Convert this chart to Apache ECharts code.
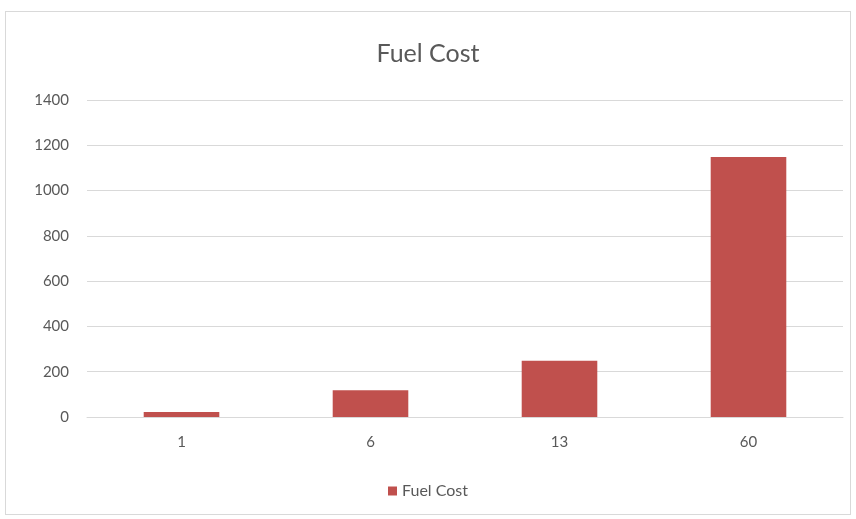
<!DOCTYPE html>
<html>
<head>
<meta charset="utf-8">
<script src="https://cdn.jsdelivr.net/npm/echarts@6/dist/echarts.min.js"></script>
<style>
  html, body { margin: 0; padding: 0; background: #fff; }
  .frame {
    position: absolute; left: 5px; top: 11px; width: 846px; height: 504px;
    border: 1px solid #d9d9d9; box-sizing: border-box;
  }
  #chart { position: absolute; left: 0; top: 0; width: 856px; height: 519px; }
</style>
</head>
<body>
<div class="frame"></div>
<div id="chart"></div>
<script>
// 数据
const categories = ['1', '6', '13', '60'];
const fuelCost = [22, 118, 248, 1148];
const seriesName = 'Fuel Cost';

const chart = echarts.init(document.getElementById('chart'));
const textColor = '#595959';
const fontFamily = 'Lato, "Open Sans", sans-serif';

chart.setOption({
  animation: false,
  title: {
    text: 'Fuel Cost',
    left: 'center',
    top: 36,
    textStyle: { color: textColor, fontSize: 25, fontWeight: 'normal', fontFamily: fontFamily }
  },
  legend: {
    data: [seriesName],
    bottom: 15,
    left: 'center',
    itemWidth: 9,
    itemHeight: 9,
    itemGap: 6,
    icon: 'rect',
    textStyle: { color: textColor, fontSize: 16, fontFamily: fontFamily }
  },
  grid: { left: 87, right: 13, top: 100, bottom: 102 },
  xAxis: {
    type: 'category',
    data: categories,
    axisLine: { lineStyle: { color: '#d9d9d9' } },
    axisTick: { show: false },
    axisLabel: { color: textColor, fontSize: 15, margin: 18, fontFamily: fontFamily }
  },
  yAxis: {
    type: 'value',
    min: 0,
    max: 1400,
    interval: 200,
    axisLine: { show: false },
    axisTick: { show: false },
    axisLabel: {
      color: textColor, fontSize: 15, margin: 18, fontFamily: fontFamily,
      formatter: (v) => String(v)
    },
    splitLine: { lineStyle: { color: '#d9d9d9' } }
  },
  series: [{
    name: seriesName,
    type: 'bar',
    data: fuelCost,
    barWidth: '40%',
    itemStyle: { color: '#C0504D' }
  }]
});
</script>
</body>
</html>
